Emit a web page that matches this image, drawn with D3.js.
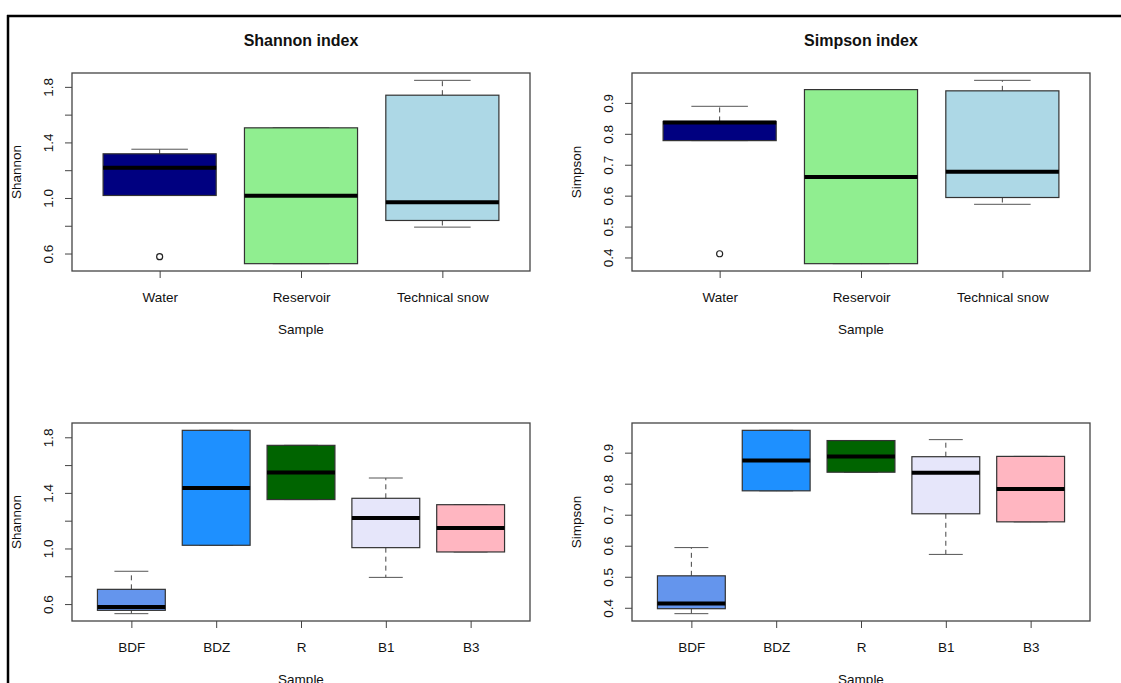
<!DOCTYPE html>
<html>
<head>
<meta charset="utf-8">
<script src="https://cdn.jsdelivr.net/npm/d3@7"></script>
<style>
body { margin: 0; background: #fff; }
svg text { font-family: "Liberation Sans", Arial, sans-serif; fill: #111; }
</style>
</head>
<body>
<div id="chart"></div>
<script>
"use strict";

const sites = ["Water", "Reservoir", "Technical snow"];
const siteColors = ["#000080", "#90ee90", "#add8e6"];
const samples = ["BDF", "BDZ", "R", "B1", "B3"];
const sampleColors = ["#6495ed", "#1e90ff", "#006400", "#e6e6fa", "#ffb6c1"];

// each row: [lower whisker, Q1, median, Q3, upper whisker]
const shannonSite = [
    [1.018, 1.018, 1.217, 1.318, 1.351],
    [0.527, 0.527, 1.016, 1.505, 1.505],
    [0.790, 0.838, 0.970, 1.740, 1.847],
];
const shannonSiteOut = [[0.577], [], []];

const simpsonSite = [
    [0.778, 0.778, 0.837, 0.840, 0.889],
    [0.380, 0.380, 0.660, 0.943, 0.943],
    [0.572, 0.594, 0.677, 0.939, 0.973],
];
const simpsonSiteOut = [[0.412], [], []];

const shannonSample = [
    [0.531, 0.555, 0.579, 0.706, 0.836],
    [1.023, 1.023, 1.435, 1.850, 1.850],
    [1.352, 1.352, 1.546, 1.742, 1.742],
    [0.792, 1.006, 1.220, 1.361, 1.507],
    [0.975, 0.975, 1.147, 1.315, 1.315],
];
const shannonSampleOut = [[], [], [], [], []];

const simpsonSample = [
    [0.381, 0.397, 0.414, 0.503, 0.594],
    [0.777, 0.777, 0.875, 0.972, 0.972],
    [0.837, 0.837, 0.888, 0.939, 0.939],
    [0.572, 0.703, 0.835, 0.887, 0.942],
    [0.677, 0.677, 0.783, 0.888, 0.888],
];
const simpsonSampleOut = [[], [], [], [], []];

const shannonTicks = [0.6, 0.8, 1.0, 1.2, 1.4, 1.6, 1.8];
const shannonTickLabels = ["0.6", "", "1.0", "", "1.4", "", "1.8"];
const simpsonTicks = [0.4, 0.5, 0.6, 0.7, 0.8, 0.9];
const simpsonTickLabels = ["0.4", "0.5", "0.6", "0.7", "0.8", "0.9"];

const WIDTH = 1121;
const HEIGHT = 683;
const PW = 458;
const PH = 198;

let svg = d3.select("#chart").append("svg")
    .attr("width", WIDTH)
    .attr("height", HEIGHT);

// outer frame (only top and left edges are visible)
svg.append("line")
    .attr("x1", 8).attr("x2", 8).attr("y1", 15).attr("y2", HEIGHT)
    .attr("stroke", "#000").attr("stroke-width", 2.5);
svg.append("line")
    .attr("x1", 7).attr("x2", WIDTH).attr("y1", 16).attr("y2", 16)
    .attr("stroke", "#000").attr("stroke-width", 2.5);


function draw_panel(x0, y0, groups, stats, outliers, colors, ticks, tickLabels, ylabel, title) {
    const n = groups.length;
    const g = svg.append("g");

    let xscale = d3.scaleLinear()
        .domain([0.5 - 0.04 * n, n + 0.5 + 0.04 * n])
        .range([x0, x0 + PW]);

    const all = stats.flat().concat(outliers.flat());
    const [lo, hi] = d3.extent(all);
    const pad = 0.04 * (hi - lo);
    let yscale = d3.scaleLinear()
        .domain([lo - pad, hi + pad])
        .range([y0 + PH, y0]);

    const half = 0.4;
    const staple = 0.2;

    stats.forEach((s, i) => {
        const c = i + 1;
        const [wlo, q1, med, q3, whi] = s;

        // whiskers
        g.append("line")
            .attr("x1", xscale(c)).attr("x2", xscale(c))
            .attr("y1", yscale(q3)).attr("y2", yscale(whi))
            .attr("stroke", "#444").attr("stroke-dasharray", "5,4");
        g.append("line")
            .attr("x1", xscale(c)).attr("x2", xscale(c))
            .attr("y1", yscale(q1)).attr("y2", yscale(wlo))
            .attr("stroke", "#444").attr("stroke-dasharray", "5,4");
        [wlo, whi].forEach(v => {
            g.append("line")
                .attr("x1", xscale(c - staple)).attr("x2", xscale(c + staple))
                .attr("y1", yscale(v)).attr("y2", yscale(v))
                .attr("stroke", "#555");
        });

        g.append("rect")
            .attr("x", xscale(c - half))
            .attr("y", yscale(q3))
            .attr("width", xscale(c + half) - xscale(c - half))
            .attr("height", yscale(q1) - yscale(q3))
            .attr("fill", colors[i])
            .attr("stroke", "#333")
            .attr("stroke-width", 1.2);

        g.append("line")
            .attr("x1", xscale(c - half)).attr("x2", xscale(c + half))
            .attr("y1", yscale(med)).attr("y2", yscale(med))
            .attr("stroke", "#000").attr("stroke-width", 4);

        outliers[i].forEach(v => {
            g.append("circle")
                .attr("cx", xscale(c)).attr("cy", yscale(v))
                .attr("r", 3)
                .attr("fill", "none")
                .attr("stroke", "#222")
                .attr("stroke-width", 1.2);
        });
    });

    // plot frame
    g.append("rect")
        .attr("x", x0).attr("y", y0)
        .attr("width", PW).attr("height", PH)
        .attr("fill", "none")
        .attr("stroke", "#444")
        .attr("stroke-width", 1.3);

    let yaxis = g.append("g")
        .attr("transform", `translate(${x0},0)`)
        .call(d3.axisLeft(yscale)
            .tickValues(ticks)
            .tickFormat((d, i) => tickLabels[i])
            .tickSize(7));
    yaxis.select(".domain").remove();
    yaxis.selectAll("line").attr("stroke", "#444");
    yaxis.selectAll("text")
        .attr("x", 0)
        .attr("dy", "0.35em")
        .attr("transform", "translate(-24,0) rotate(-90)")
        .style("text-anchor", "middle")
        .style("font-size", "13.5px");

    let xaxis = g.append("g")
        .attr("transform", `translate(0,${y0 + PH})`)
        .call(d3.axisBottom(xscale)
            .tickValues(d3.range(1, n + 1))
            .tickFormat((d, i) => groups[i])
            .tickSize(7));
    xaxis.select(".domain").remove();
    xaxis.selectAll("line").attr("stroke", "#444");
    xaxis.selectAll("text")
        .attr("y", 26)
        .attr("dy", "0.35em")
        .style("font-size", "13.5px");

    g.append("text")
        .attr("x", x0 + PW / 2)
        .attr("y", y0 + PH + 58)
        .attr("dy", "0.35em")
        .attr("text-anchor", "middle")
        .style("font-size", "13.5px")
        .text("Sample");

    g.append("text")
        .attr("transform", `translate(${x0 - 56},${y0 + PH / 2}) rotate(-90)`)
        .attr("dy", "0.35em")
        .attr("text-anchor", "middle")
        .style("font-size", "13.5px")
        .text(ylabel);

    if (title) {
        g.append("text")
            .attr("x", x0 + PW / 2)
            .attr("y", 46)
            .attr("text-anchor", "middle")
            .style("font-size", "16px")
            .style("font-weight", "bold")
            .text(title);
    }
}


draw_panel(72, 73, sites, shannonSite, shannonSiteOut, siteColors,
    shannonTicks, shannonTickLabels, "Shannon", "Shannon index");
draw_panel(632, 73, sites, simpsonSite, simpsonSiteOut, siteColors,
    simpsonTicks, simpsonTickLabels, "Simpson", "Simpson index");
draw_panel(72, 423, samples, shannonSample, shannonSampleOut, sampleColors,
    shannonTicks, shannonTickLabels, "Shannon", null);
draw_panel(632, 423, samples, simpsonSample, simpsonSampleOut, sampleColors,
    simpsonTicks, simpsonTickLabels, "Simpson", null);
</script>
</body>
</html>
